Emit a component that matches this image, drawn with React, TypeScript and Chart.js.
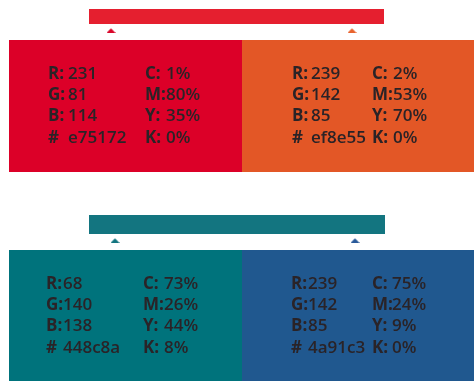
import React, { useEffect, useRef } from "react";
import { Chart, registerables } from "chart.js";

Chart.register(...registerables);

// ---- data ----
const swatchNames = ["Red", "Orange", "Teal", "Blue"];
const swatchColors = ["#dc0028", "#e35726", "#00737c", "#20588f"];
const rgbValues = [
  [231, 81, 114],
  [239, 142, 85],
  [68, 140, 138],
  [239, 142, 85],
];
const cmykValues = [
  [1, 80, 35, 0],
  [2, 53, 70, 0],
  [73, 26, 44, 8],
  [75, 24, 9, 0],
];
const hexCodes = ["e75172", "ef8e55", "448c8a", "4a91c3"];
const headerColors = ["#e51f2f", "#137580"];
const markerColors = ["#d9062a", "#e8632e", "#137580", "#2a5a9a"];
const rgbLabels = ["R:", "G:", "B:", "#"];
const cmykLabels = ["C:", "M:", "Y:", "K:"];

// ---- layout (pixels in a 474x381 coordinate space) ----
const W = 474;
const H = 381;
const colEdges = [9, 242, 474];
const rowSpans = [
  [40, 172],
  [251, 381],
];
const headerSpans = [
  { x: [89, 384], y: [9, 24] },
  { x: [89, 385], y: [215, 234] },
];
const markerX = [
  [111, 352],
  [115, 355],
];
const markerY = [30.5, 240.5];
// per swatch: [rgb label x, rgb value gap, cmyk label x, cmyk value gap]
const textOffsets = [
  [39, 20, 136, 21],
  [50, 19, 130, 21],
  [37, 17, 134, 21],
  [49, 17, 130, 20],
];

function makeTriangle(color: string) {
  const c = document.createElement("canvas");
  c.width = 9;
  c.height = 5;
  const g = c.getContext("2d")!;
  g.fillStyle = color;
  g.beginPath();
  g.moveTo(0, 5);
  g.lineTo(4.5, 0.3);
  g.lineTo(9, 5);
  g.closePath();
  g.fill();
  return c;
}

export default function App() {
  const ref = useRef<HTMLCanvasElement>(null);

  useEffect(() => {
    const swatchData = swatchNames.map((_, i) => {
      const row = Math.floor(i / 2);
      const col = i % 2;
      return {
        x: [colEdges[col], colEdges[col + 1]],
        y: (rowSpans[row][0] + rowSpans[row][1]) / 2,
      };
    });

    const textPlugin = {
      id: "swatchText",
      afterDatasetsDraw(chart: any) {
        const ctx = chart.ctx;
        const meta = chart.getDatasetMeta(0);
        ctx.save();
        ctx.fillStyle = "#2a2327";
        ctx.textBaseline = "alphabetic";
        meta.data.forEach((el: any, i: number) => {
          const props = el.getProps(["x", "y", "base", "height"], true);
          const left = Math.min(props.x, props.base);
          const top = props.y - props.height / 2;
          const offs = textOffsets[i];
          const rgb = rgbValues[i];
          const rgbVals = [String(rgb[0]), String(rgb[1]), String(rgb[2]), hexCodes[i]];
          const cm = cmykValues[i];
          for (let r = 0; r < 4; r++) {
            const yb = top + 39 + r * 21.2;
            const x1 = left + offs[0];
            const x2 = left + offs[2];
            ctx.font = '700 17px "Open Sans"';
            ctx.fillText(rgbLabels[r], x1, yb);
            ctx.fillText(cmykLabels[r], x2, yb);
            ctx.font = '600 17px "Open Sans"';
            ctx.fillText(rgbVals[r], x1 + offs[1], yb);
            ctx.fillText(cm[r] + "%", x2 + offs[3], yb);
          }
        });
        ctx.restore();
      },
    };

    const barCommon = {
      indexAxis: "y",
      grouped: false,
      borderWidth: 0,
      inflateAmount: 0,
    };

    const chart = new Chart(ref.current!, {
      type: "bar",
      data: {
        datasets: [
          {
            ...barCommon,
            label: "swatches",
            data: swatchData as any,
            backgroundColor: swatchColors,
            barThickness: rowSpans[0][1] - rowSpans[0][0],
          } as any,
          {
            ...barCommon,
            label: "header1",
            data: [{ x: headerSpans[0].x, y: (headerSpans[0].y[0] + headerSpans[0].y[1]) / 2 }] as any,
            backgroundColor: headerColors[0],
            barThickness: headerSpans[0].y[1] - headerSpans[0].y[0],
          } as any,
          {
            ...barCommon,
            label: "header2",
            data: [{ x: headerSpans[1].x, y: (headerSpans[1].y[0] + headerSpans[1].y[1]) / 2 }] as any,
            backgroundColor: headerColors[1],
            barThickness: headerSpans[1].y[1] - headerSpans[1].y[0],
          } as any,
          {
            type: "scatter",
            label: "markers",
            data: [
              { x: markerX[0][0], y: markerY[0] },
              { x: markerX[0][1], y: markerY[0] },
              { x: markerX[1][0], y: markerY[1] },
              { x: markerX[1][1], y: markerY[1] },
            ],
            pointStyle: markerColors.map(makeTriangle) as any,
            pointRadius: 5,
          } as any,
        ],
      },
      options: {
        animation: false,
        responsive: false,
        events: [],
        layout: { padding: 0, autoPadding: false },
        plugins: { legend: { display: false }, tooltip: { enabled: false } },
        scales: {
          x: { type: "linear", min: 0, max: W, display: false, offset: false, grace: 0 },
          y: { type: "linear", min: 0, max: H, reverse: true, display: false, offset: false, grace: 0 },
        },
      },
      plugins: [textPlugin],
    });
    return () => chart.destroy();
  }, []);

  return (
    <div style={{ position: "fixed", left: 0, top: 0, width: W, height: H, background: "#fff" }}>
      <canvas ref={ref} width={W} height={H} style={{ display: "block", width: W, height: H }} />
    </div>
  );
}
